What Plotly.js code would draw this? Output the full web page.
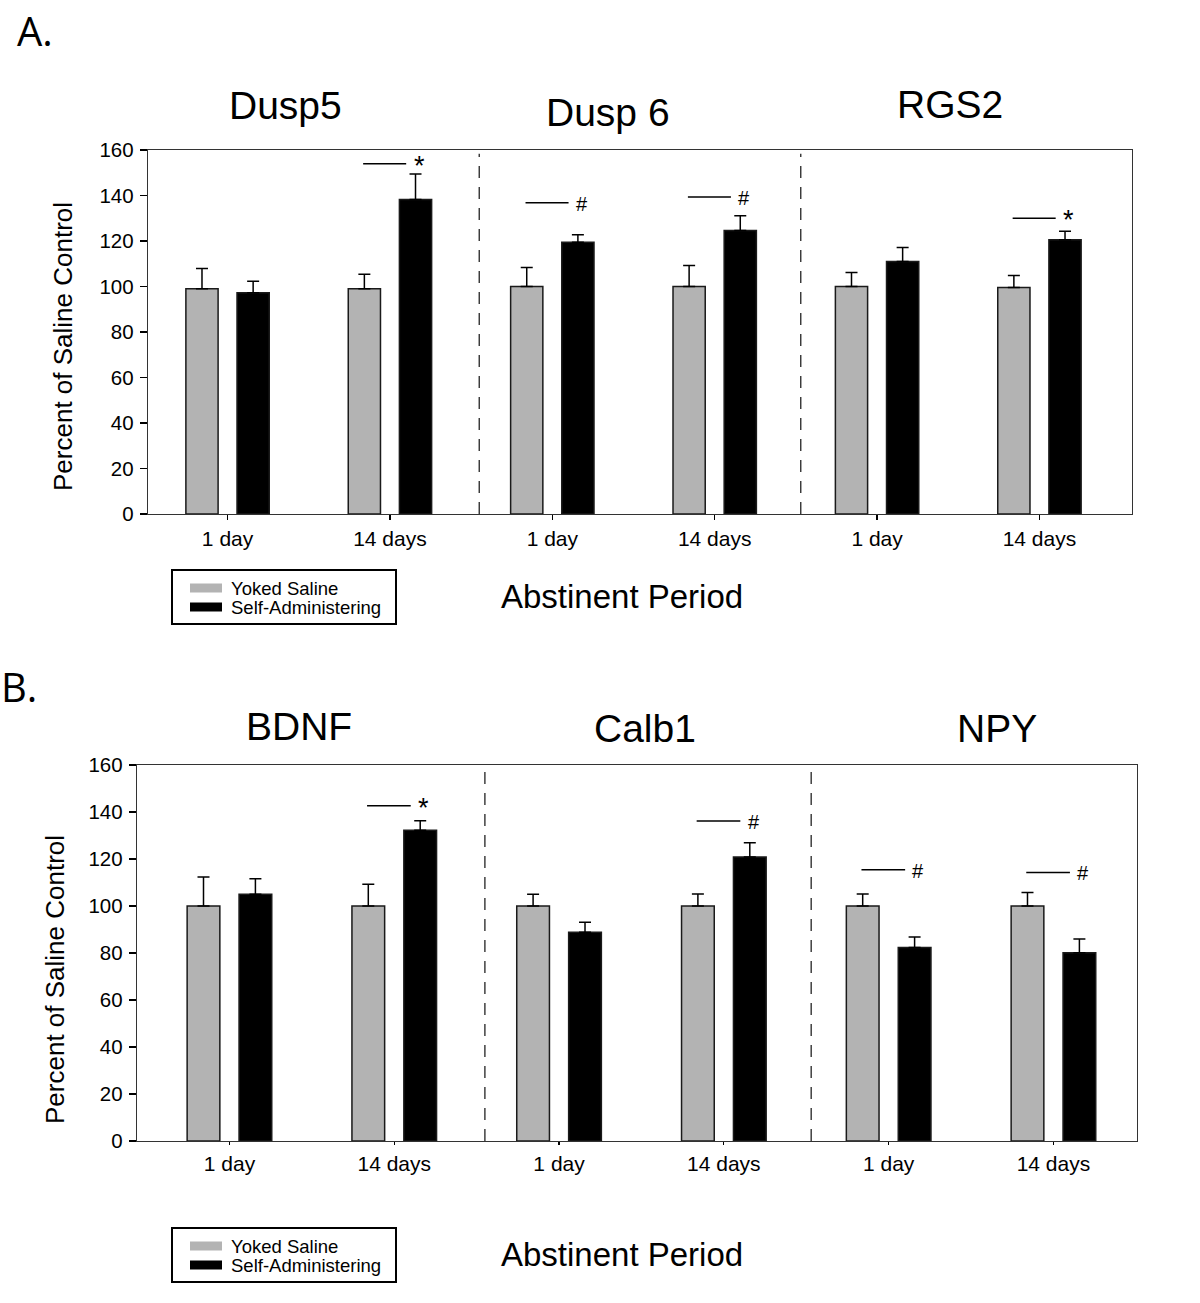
<!DOCTYPE html>
<html>
<head>
<meta charset="utf-8">
<script src="https://cdn.plot.ly/plotly-3.0.1.min.js"></script>
<style>
  body { margin: 0; background: #fff; }
  #graph { width: 1200px; height: 1303px; }
</style>
</head>
<body>
<div id="graph"></div>
<script>
// values (percent of saline control)
var periods = ['1 day', '14 days'];
var genesA = ['Dusp5', 'Dusp 6', 'RGS2'];
var genesB = ['BDNF', 'Calb1', 'NPY'];
var seriesNames = ['Yoked Saline', 'Self-Administering'];

var yokedA = [99, 99, 100, 100, 100, 99.6];
var yokedErrA = [8.9, 6.4, 8.3, 9.2, 6.2, 5.2];
var selfA = [97.2, 138.2, 119.5, 124.6, 111, 120.5];
var selfErrA = [5.1, 11.2, 3.2, 6.5, 6.1, 3.8];
var sigLevelA = [null, 154, 136.8, 139.3, null, 130];
var sigMarkA = ['', '*', '#', '#', '', '*'];

var yokedB = [100, 100, 100, 100, 100, 100];
var yokedErrB = [12.3, 9.3, 5.0, 5.1, 5.1, 5.7];
var selfB = [105, 132.2, 88.8, 120.9, 82.3, 80.1];
var selfErrB = [6.6, 4.1, 4.3, 6.0, 4.5, 5.9];
var sigLevelB = [null, 142.7, null, 136.2, 115.4, 114.3];
var sigMarkB = ['', '*', '', '#', '#', '#'];

var FONT = 'Liberation Sans, Arial, sans-serif';
var GRAY = '#b3b3b3';
var COLORS = [GRAY, '#000'];
var W = 1200, H = 1303;

function px(x) { return x / W; }
function py(y) { return 1 - y / H; }

function graphplot() {
    var xs = [];
    var ticktext = [];
    for (var g = 0; g < 3; g++) {
        for (var p = 0; p < periods.length; p++) {
            xs.push(xs.length);
            ticktext.push(periods[p]);
        }
    }

    var traces = [];
    var shapes = [];
    var annotations = [];

    function zeros(a) { return a.map(function () { return 0; }); }

    function addPanel(n, yoked, yokedErr, self, selfErr, sigLevel, sigMark) {
        var xa = n == 1 ? 'x' : 'x' + n;
        var ya = n == 1 ? 'y' : 'y' + n;
        var sets = [[yoked, yokedErr], [self, selfErr]];
        for (var s = 0; s < sets.length; s++) {
            traces.push({
                type: 'bar',
                x: xs,
                y: sets[s][0],
                xaxis: xa,
                yaxis: ya,
                name: seriesNames[s],
                showlegend: false,
                marker: { color: COLORS[s], line: { color: '#1a1a1a', width: 1.5 } },
                error_y: {
                    type: 'data',
                    symmetric: false,
                    array: sets[s][1],
                    arrayminus: zeros(sets[s][1]),
                    color: '#000',
                    thickness: 1.5,
                    width: 6
                }
            });
        }

        // separators between genes
        [1.55, 3.53].forEach(function (xv) {
            shapes.push({
                type: 'line', xref: xa, yref: ya + ' domain',
                x0: xv, x1: xv, y0: 0, y1: 0.99,
                line: { color: '#333', width: 1.4, dash: '12px,9px' }
            });
        });

        // significance marks
        for (var i = 0; i < xs.length; i++) {
            if (sigLevel[i] === null) continue;
            shapes.push({
                type: 'line', xref: xa, yref: ya,
                x0: xs[i] - 0.165, x1: xs[i] + 0.10,
                y0: sigLevel[i], y1: sigLevel[i],
                line: { color: '#000', width: 1.5 }
            });
            annotations.push({
                xref: xa, yref: ya,
                x: xs[i] + 0.18, y: sigLevel[i],
                text: sigMark[i],
                showarrow: false,
                yshift: sigMark[i] == '*' ? -2 : -1,
                font: { family: FONT, size: sigMark[i] == '*' ? 27 : 20, color: '#000' }
            });
        }
    }

    addPanel(1, yokedA, yokedErrA, selfA, selfErrA, sigLevelA, sigMarkA);
    addPanel(2, yokedB, yokedErrB, selfB, selfErrB, sigLevelB, sigMarkB);

    function label(text, x, y, size, extra) {
        var a = {
            xref: 'paper', yref: 'paper',
            x: px(x), y: py(y),
            xanchor: 'center', yanchor: 'middle',
            text: text, showarrow: false,
            font: { family: FONT, size: size, color: '#000' }
        };
        for (var k in extra) a[k] = extra[k];
        annotations.push(a);
    }

    // boxed key under each panel
    function drawKey(left, top) {
        shapes.push({
            type: 'rect', xref: 'paper', yref: 'paper',
            x0: px(left), x1: px(left + 224), y0: py(top), y1: py(top + 54),
            line: { color: '#000', width: 2 }, fillcolor: 'rgba(0,0,0,0)'
        });
        for (var s = 0; s < seriesNames.length; s++) {
            var cy = top + 18 + s * 19;
            shapes.push({
                type: 'rect', xref: 'paper', yref: 'paper',
                x0: px(left + 18), x1: px(left + 50), y0: py(cy - 4.5), y1: py(cy + 4.5),
                line: { width: 0 }, fillcolor: COLORS[s]
            });
            label(seriesNames[s], left + 57, cy, 18.5, { xanchor: 'left' });
        }
    }

    var letterFont = { family: 'Open Sans, sans-serif', size: 40, color: '#000' };
    label('A.', 35, 30, 40, { font: letterFont });
    label('B.', 19, 686, 40, { font: letterFont });

    var titlePosA = [[285, 105], [608, 112], [950, 104]];
    var titlePosB = [[299, 726], [645, 728], [997, 728]];
    for (var t = 0; t < 3; t++) {
        label(genesA[t], titlePosA[t][0], titlePosA[t][1], 39);
        label(genesB[t], titlePosB[t][0], titlePosB[t][1], 39);
    }

    label('Percent of Saline Control', 63, 347, 26, { textangle: -90 });
    label('Percent of Saline Control', 55, 980, 26, { textangle: -90 });
    label('Abstinent Period', 622, 597, 33);
    label('Abstinent Period', 622, 1254, 33);
    drawKey(172, 570);
    drawKey(172, 1228);

    function xaxis(domain, range, ticklen) {
        return {
            domain: domain,
            range: range,
            tickvals: xs,
            ticktext: ticktext,
            ticks: 'outside',
            ticklen: ticklen,
            tickwidth: 1.3,
            tickcolor: '#000',
            ticklabelstandoff: 0,
            showline: true,
            linecolor: '#333',
            linewidth: 1.3,
            mirror: true,
            showgrid: false,
            zeroline: false,
            fixedrange: true,
            tickfont: { family: FONT, size: 21, color: '#000' }
        };
    }

    function yaxis(domain) {
        return {
            domain: domain,
            range: [0, 160],
            dtick: 20,
            ticks: 'outside',
            ticklen: 7,
            tickwidth: 1.3,
            tickcolor: '#000',
            ticklabelstandoff: 2,
            showline: true,
            linecolor: '#333',
            linewidth: 1.3,
            mirror: true,
            showgrid: false,
            zeroline: false,
            fixedrange: true,
            tickfont: { family: FONT, size: 20.5, color: '#000' }
        };
    }

    var frame = {
        width: W,
        height: H,
        margin: { l: 0, r: 0, t: 0, b: 0 },
        paper_bgcolor: '#fff',
        plot_bgcolor: '#fff',
        barmode: 'group',
        bargap: 0.37,
        bargroupgap: 0.37,
        showlegend: false,
        xaxis: xaxis([px(148), px(1132)], [-0.49, 5.57], 5),
        yaxis: yaxis([py(514), py(150)]),
        xaxis2: xaxis([px(137), px(1137)], [-0.561, 5.507], 3),
        yaxis2: yaxis([py(1141), py(765)]),
        shapes: shapes,
        annotations: annotations
    };
    frame.xaxis2.anchor = 'y2';
    frame.yaxis2.anchor = 'x2';

    Plotly.newPlot('graph', traces, frame, { displayModeBar: false, staticPlot: true });
}

graphplot();
</script>
</body>
</html>
